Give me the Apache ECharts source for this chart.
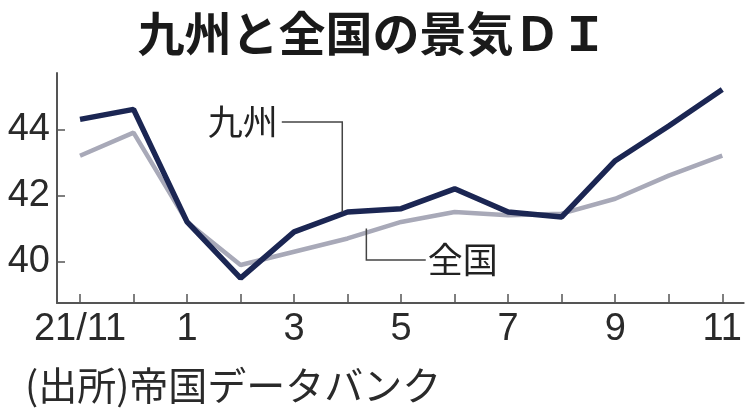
<!DOCTYPE html>
<html>
<head>
<meta charset="utf-8">
<script src="https://cdn.jsdelivr.net/npm/echarts@6/dist/echarts.min.js"></script>
<style>
  html, body { margin: 0; padding: 0; background: #fff; }
  #chart { width: 745px; height: 414px; }
</style>
</head>
<body>
<div id="chart"></div>
<script>
// months, 2021/11 .. 2022/11
const months = ['21/11', '12', '1', '2', '3', '4', '5', '6', '7', '8', '9', '10', '11'];
const kyushu = [44.3, 44.6, 41.2, 39.5, 40.9, 41.5, 41.6, 42.2, 41.5, 41.35, 43.05, 44.1, 45.2];
const zenkoku = [43.2, 43.9, 41.2, 39.9, 40.3, 40.7, 41.2, 41.5, 41.4, 41.45, 41.9, 42.6, 43.2];
const yTicks = [40, 42, 44];

const FONT_NUM = '"Liberation Sans Narrow", "Liberation Sans", sans-serif';
const FONT_JP = '"Noto Sans CJK JP", sans-serif';
const NAVY = '#1b2653';
const GREY = '#a8a9b8';

const dom = document.getElementById('chart');
const chart = echarts.init(dom, null, {renderer: 'canvas'});

const toPoints = vals => vals.map((v, i) => [i, v]);
const monthIdx = months.map((m, i) => i);

const options = {
    animation: false,
    backgroundColor: '#fff',
    title: {
        text: '九州と全国の景気ＤＩ',
        left: 'center',
        top: 5,
        textStyle: {fontFamily: FONT_JP, fontSize: 47, fontWeight: 'bold', color: '#1a1a1a'}
    },
    grid: {left: 57, right: 0, top: 73, bottom: 111, containLabel: false},
    xAxis: {
        type: 'value',
        min: -0.43,
        max: 12.4,
        axisLine: {show: true, onZero: false, lineStyle: {color: '#555', width: 2}},
        axisTick: {show: true, inside: true, length: 9, customValues: monthIdx, lineStyle: {color: '#555', width: 1.5}},
        axisLabel: {
            customValues: monthIdx.filter(i => i % 2 === 0),
            formatter: v => months[v],
            margin: 8,
            fontFamily: FONT_NUM,
            fontSize: 38,
            color: '#2a2a2a'
        },
        splitLine: {show: false}
    },
    yAxis: {
        type: 'value',
        min: 38.75,
        max: 45.7,
        axisLine: {show: true, onZero: false, lineStyle: {color: '#555', width: 2}},
        axisTick: {show: true, inside: true, length: 8, customValues: yTicks, lineStyle: {color: '#555', width: 1.5}},
        axisLabel: {
            customValues: yTicks,
            margin: 7,
            fontFamily: FONT_NUM,
            fontSize: 38,
            color: '#2a2a2a'
        },
        splitLine: {show: false}
    },
    series: [
        {
            name: '全国',
            type: 'line',
            data: toPoints(zenkoku),
            symbol: 'none',
            lineStyle: {color: GREY, width: 4.5},
            z: 2
        },
        {
            name: '九州',
            type: 'line',
            data: toPoints(kyushu),
            symbol: 'none',
            lineStyle: {color: NAVY, width: 5.5},
            z: 3
        }
    ]
};
chart.setOption(options);

// leader-line labels, positions in data units
const notes = [
    {text: '九州', x: 4.9, from: 41.5, to: 44.22, endX: 3.77, side: 'left'},
    {text: '全国', x: 5.35, from: 41.0, to: 40.05, endX: 6.46, side: 'right'}
];
const elements = [];
notes.forEach(n => {
    const p0 = chart.convertToPixel({gridIndex: 0}, [n.x, n.from]);
    const p1 = chart.convertToPixel({gridIndex: 0}, [n.x, n.to]);
    const p2 = chart.convertToPixel({gridIndex: 0}, [n.endX, n.to]);
    elements.push({
        type: 'polyline',
        shape: {points: [p0, p1, p2]},
        style: {stroke: '#444', lineWidth: 1.5, fill: null},
        z: 10
    });
    elements.push({
        type: 'text',
        x: n.side === 'left' ? p2[0] - 4 : p2[0] + 2,
        y: p2[1],
        style: {
            text: n.text,
            fontFamily: FONT_JP,
            fontSize: 35,
            fill: '#222',
            align: n.side === 'left' ? 'right' : 'left',
            verticalAlign: 'middle'
        },
        z: 10
    });
});
elements.push({
    type: 'text',
    left: 25,
    top: 366,
    style: {text: '(出所)帝国データバンク', fontFamily: FONT_JP, fontSize: 39, fill: '#2a2a2a'}
});
chart.setOption({graphic: elements});
</script>
</body>
</html>
